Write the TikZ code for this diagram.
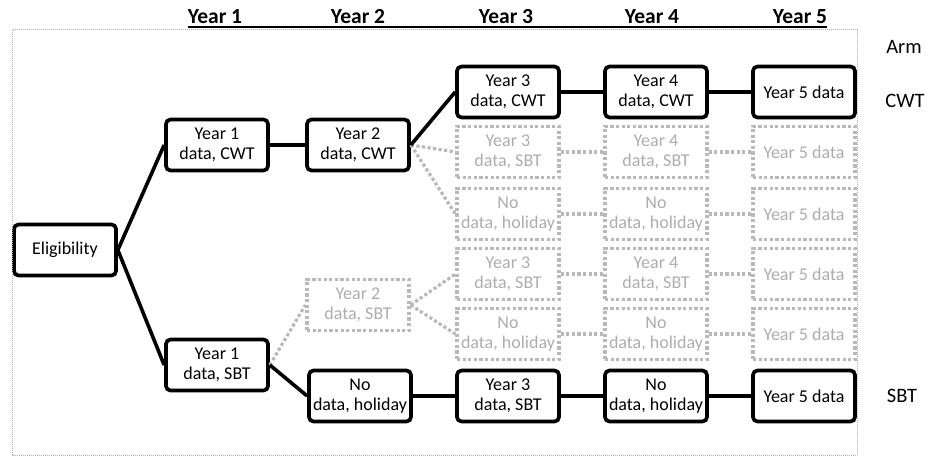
\documentclass[tikz,border=0pt]{standalone}
\usepackage{fontspec}
\setmainfont{Carlito}
\begin{document}
\begin{tikzpicture}[x=1pt,y=-1pt,
  box/.style={draw=black, line width=3.7pt, rounded corners=4.5pt, minimum width=102pt, minimum height=51pt,
    inner sep=0pt, align=center, font=\fontsize{18}{20}\selectfont, fill=white},
  gbox/.style={draw=gline, line width=3.2pt, dash pattern=on 3.2pt off 2.4pt, minimum width=102pt, minimum height=51pt,
    inner sep=0pt, align=center, font=\fontsize{18}{20}\selectfont, text=gtext},
  conn/.style={line width=3.6pt, black},
  gconn/.style={line width=3.2pt, gline, dash pattern=on 3.2pt off 2.4pt},
  head/.style={font=\fontsize{21.5}{23}\selectfont\bfseries, inner sep=0pt, anchor=base},
  arm/.style={font=\fontsize{20.5}{22}\selectfont, inner sep=0pt},
]
\definecolor{gline}{HTML}{B9B9B9}
\definecolor{gtext}{HTML}{ADADAD}
\definecolor{frame}{HTML}{B0B0B0}
\useasboundingbox (0,0) rectangle (928,457);

% headers
\node[head] (h1) at (215,24) {Year 1};
\node[head] (h2) at (358,24) {Year 2};
\node[head] (h3) at (506,24) {Year 3};
\node[head] (h4) at (652,24) {Year 4};
\node[head] (h5) at (800,24) {Year 5};
\draw[line width=2pt] ([yshift=-3.5pt]h1.base west) -- ([yshift=-3.5pt]h5.base east);

% arm labels
\node[arm] (arm) at (904,47) {Arm};
\node[arm] (cwt) at (905,101) {CWT};
\node[arm] (sbt) at (902,396) {SBT};

% gray nodes
\node[gbox] (g3a) at (508,152) {Year 3\\data, SBT};
\node[gbox] (g4a) at (656,152) {Year 4\\data, SBT};
\node[gbox] (g5a) at (804,152) {Year 5 data};
\node[gbox] (g3b) at (508,214) {No\\data, holiday};
\node[gbox] (g4b) at (656,214) {No\\data, holiday};
\node[gbox] (g5b) at (804,214) {Year 5 data};
\node[gbox] (g3c) at (508,274) {Year 3\\data, SBT};
\node[gbox] (g4c) at (656,274) {Year 4\\data, SBT};
\node[gbox] (g5c) at (804,274) {Year 5 data};
\node[gbox] (g3d) at (508,334) {No\\data, holiday};
\node[gbox] (g4d) at (656,334) {No\\data, holiday};
\node[gbox] (g5d) at (804,334) {Year 5 data};
\node[gbox] (g2s) at (358,305) {Year 2\\data, SBT};

% black nodes
\node[box] (elig) at (65,250) {Eligibility};
\node[box] (c1) at (217,145) {Year 1\\data, CWT};
\node[box] (c2) at (358,145) {Year 2\\data, CWT};
\node[box] (c3) at (508,92) {Year 3\\data, CWT};
\node[box] (c4) at (656,92) {Year 4\\data, CWT};
\node[box] (c5) at (804,92) {Year 5 data};
\node[box] (s1) at (217,365) {Year 1\\data, SBT};
\node[box] (s2) at (360,396) {No\\data, holiday};
\node[box] (s3) at (508,396) {Year 3\\data, SBT};
\node[box] (s4) at (656,396) {No\\data, holiday};
\node[box] (s5) at (804,396) {Year 5 data};

% gray connectors
\draw[gconn] (c2.east) -- (g3a.west);
\draw[gconn] (c2.east) -- (g3b.west);
\draw[gconn] (s1.east) -- (g2s.west);
\draw[gconn] (g2s.east) -- (g3c.west);
\draw[gconn] (g2s.east) -- (g3d.west);
\foreach \r in {a,b,c,d}{
  \draw[gconn] (g3\r.east) -- (g4\r.west);
  \draw[gconn] (g4\r.east) -- (g5\r.west);
}

% black connectors
\draw[conn] (elig.east) -- (c1.west);
\draw[conn] (elig.east) -- (s1.west);
\draw[conn] (c1.east) -- (c2.west);
\draw[conn] (c2.east) -- (c3.west);
\draw[conn] (c3.east) -- (c4.west);
\draw[conn] (c4.east) -- (c5.west);
\draw[conn] (s1.east) -- (s2.west);
\draw[conn] (s2.east) -- (s3.west);
\draw[conn] (s3.east) -- (s4.west);
\draw[conn] (s4.east) -- (s5.west);

% frame
\draw[frame, line width=1pt, dash pattern=on 1pt off 1pt] (12,30) rectangle (857,455);
\end{tikzpicture}
\end{document}
